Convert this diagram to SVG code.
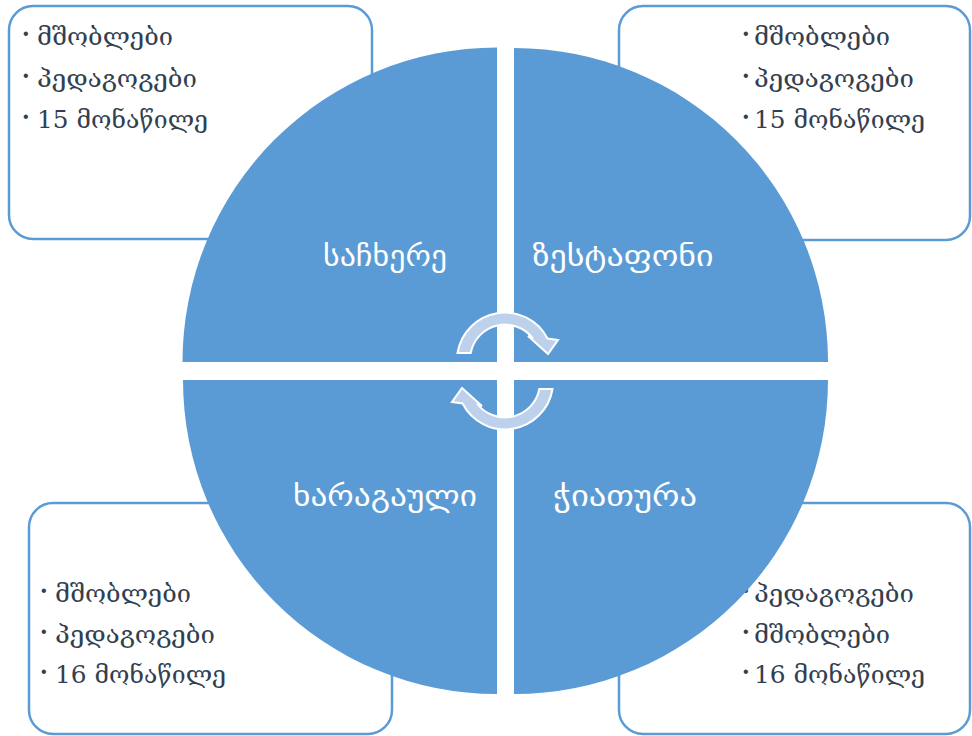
<svg xmlns="http://www.w3.org/2000/svg" width="972" height="736" viewBox="0 0 972 736">
<style>
.box{fill:#ffffff;stroke:#5B9BD5;stroke-width:2.5}
.quad{fill:#5B9BD5}
.txt{font-family:"DejaVu Serif","DejaVu Sans",serif;font-size:25px;fill:#333F50}
.bul{font-family:"Liberation Sans",sans-serif;font-size:16px;fill:#333F50}
.lbl{font-family:"DejaVu Sans",sans-serif;font-size:29px;fill:#ffffff;text-anchor:middle}
.arr{fill:#BDD1EC;stroke:#ffffff;stroke-width:2;stroke-linejoin:miter}
</style>
<rect width="972" height="736" fill="#ffffff"/>
<g id="box-tl">
<rect class="box" x="9" y="6" width="363" height="233" rx="24"/>
<text class="bul" x="23" y="39">•</text><text class="txt" x="37" y="45" textLength="136" lengthAdjust="spacingAndGlyphs">მშობლები</text>
<text class="bul" x="23" y="81">•</text><text class="txt" x="37" y="87" textLength="160" lengthAdjust="spacingAndGlyphs">პედაგოგები</text>
<text class="bul" x="23" y="122">•</text><text class="txt" x="37" y="128" textLength="171" lengthAdjust="spacingAndGlyphs">15 მონაწილე</text>
</g>
<g id="box-tr">
<rect class="box" x="619" y="6" width="351" height="234" rx="24"/>
<text class="bul" x="743" y="39">•</text><text class="txt" x="754" y="45" textLength="136" lengthAdjust="spacingAndGlyphs">მშობლები</text>
<text class="bul" x="743" y="81">•</text><text class="txt" x="754" y="87" textLength="160" lengthAdjust="spacingAndGlyphs">პედაგოგები</text>
<text class="bul" x="743" y="122">•</text><text class="txt" x="754" y="128" textLength="171" lengthAdjust="spacingAndGlyphs">15 მონაწილე</text>
</g>
<g id="box-bl">
<rect class="box" x="29" y="503" width="363" height="231" rx="24"/>
<text class="bul" x="41" y="596">•</text><text class="txt" x="55" y="602" textLength="136" lengthAdjust="spacingAndGlyphs">მშობლები</text>
<text class="bul" x="41" y="637">•</text><text class="txt" x="55" y="643" textLength="160" lengthAdjust="spacingAndGlyphs">პედაგოგები</text>
<text class="bul" x="41" y="677">•</text><text class="txt" x="55" y="683" textLength="171" lengthAdjust="spacingAndGlyphs">16 მონაწილე</text>
</g>
<g id="box-br">
<rect class="box" x="619" y="503" width="351" height="231" rx="24"/>
<text class="bul" x="743" y="596">•</text><text class="txt" x="754" y="602" textLength="160" lengthAdjust="spacingAndGlyphs">პედაგოგები</text>
<text class="bul" x="743" y="637">•</text><text class="txt" x="754" y="643" textLength="136" lengthAdjust="spacingAndGlyphs">მშობლები</text>
<text class="bul" x="743" y="677">•</text><text class="txt" x="754" y="683" textLength="171" lengthAdjust="spacingAndGlyphs">16 მონაწილე</text>
</g>
<g id="q-sachkhere">
<path class="quad" d="M497,362 L182.5,362 A314.5,314.5 0 0 1 497,47.5 Z"/>
<text class="lbl" x="385" y="266" textLength="124" lengthAdjust="spacingAndGlyphs">საჩხერე</text>
</g>
<g id="q-zestaponi">
<path class="quad" d="M514,362 L514,48 A314,314 0 0 1 828,362 Z"/>
<text class="lbl" x="623" y="266" textLength="181" lengthAdjust="spacingAndGlyphs">ზესტაფონი</text>
</g>
<g id="q-kharagauli">
<path class="quad" d="M497,380 L497,694 A314,314 0 0 1 183,380 Z"/>
<text class="lbl" x="385" y="506" textLength="184" lengthAdjust="spacingAndGlyphs">ხარაგაული</text>
</g>
<g id="q-chiatura">
<path class="quad" d="M514,380 L828,380 A314,314 0 0 1 514,694 Z"/>
<text class="lbl" x="625" y="506" textLength="144" lengthAdjust="spacingAndGlyphs">ჭიათურა</text>
</g>
<g id="connectors">
<path id="arrow-top" class="arr" d="M457.5,353 A48,48 0 0 1 547.5,338.5 L558,340 L548,354 L528,336 L533,338.5 A35,35 0 0 0 470.7,353 Z"/>
<path id="arrow-bottom" class="arr" transform="rotate(180 505 371)" d="M457.5,353 A48,48 0 0 1 547.5,338.5 L558,340 L548,354 L528,336 L533,338.5 A35,35 0 0 0 470.7,353 Z"/>
</g>
</svg>
